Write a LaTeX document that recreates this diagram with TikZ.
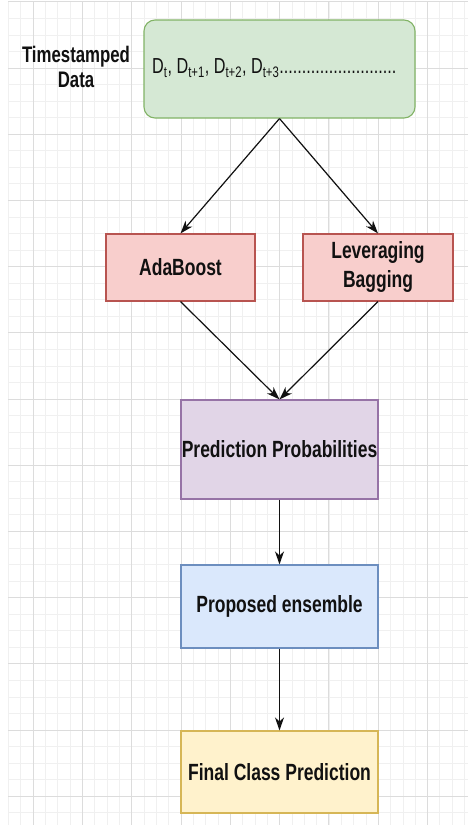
\documentclass[tikz,border=0pt]{standalone}
\usepackage{fontspec}
\setmainfont{Liberation Sans}
\usepackage{graphicx}
\usetikzlibrary{arrows.meta}

% text in this chart is set taller than wide
\newcommand{\tallset}[1]{\scalebox{1}[1.34]{#1}}

\definecolor{gridminor}{HTML}{F0F0F0}
\definecolor{gridmajor}{HTML}{DCDCDC}
\definecolor{greenfill}{HTML}{D5E8D4}
\definecolor{greenline}{HTML}{82B366}
\definecolor{redfill}{HTML}{F8CECC}
\definecolor{redline}{HTML}{B85450}
\definecolor{purplefill}{HTML}{E1D5E7}
\definecolor{purpleline}{HTML}{9673A6}
\definecolor{bluefill}{HTML}{DAE8FC}
\definecolor{blueline}{HTML}{6C8EBF}
\definecolor{yellowfill}{HTML}{FFF2CC}
\definecolor{yellowline}{HTML}{D6B656}
\definecolor{ink}{HTML}{111111}

\tikzset{
  box/.style={draw, line width=1.1pt, inner sep=0pt, align=center, text=ink,
    font=\fontsize{17.5}{21.6}\selectfont\bfseries},
  flow/.style={draw=ink, line width=1.2pt, -{Stealth[length=13pt,width=9pt,inset=4pt]}},
}

\begin{document}
\begin{tikzpicture}[x=1pt, y=-1pt]
  \useasboundingbox (0,0) rectangle (468,825);
  \fill[white] (0,0) rectangle (468,825);

  % background grid
  \foreach \i in {0,...,37} {
    \draw[gridminor, line width=0.8pt] ({8.34+12.33*\i},2) -- ({8.34+12.33*\i},825);
  }
  \foreach \j in {0,...,49} {
    \draw[gridminor, line width=0.8pt] (8,{1.8+16.55*\j}) -- (468,{1.8+16.55*\j});
  }
  \foreach \i in {0,...,9} {
    \draw[gridmajor, line width=0.9pt] ({33+49.32*\i},2) -- ({33+49.32*\i},825);
  }
  \foreach \j in {0,...,12} {
    \draw[gridmajor, line width=0.9pt] (8,{1.8+66.2*\j}) -- (468,{1.8+66.2*\j});
  }

  % nodes
  \node[box, draw=greenline, fill=greenfill, rounded corners=11pt,
        minimum width=271pt, minimum height=98pt] (data) at (279.5,69) {};
  \node[anchor=west, inner sep=0pt, text=ink,
        font=\fontsize{16.2}{18}\selectfont] (seq) at (152,68)
        {\tallset{D\textsubscript{t}, D\textsubscript{t+1}, D\textsubscript{t+2}, D\textsubscript{t+3}..........................}};
  \node[inner sep=0pt, align=center, text=ink,
        font=\fontsize{16.8}{19.4}\selectfont\bfseries] (label) at (76,70)
        {\tallset{\begin{tabular}{@{}c@{}}Timestamped\\[-1pt]Data\end{tabular}}};

  \node[box, draw=redline, fill=redfill, minimum width=149pt, minimum height=67pt]
        (ada) at (180.5,267.5) {\tallset{AdaBoost}};
  \node[box, draw=redline, fill=redfill, minimum width=150pt, minimum height=67pt]
        (lev) at (378,267.5) {\tallset{\begin{tabular}{@{}c@{}}Leveraging\\Bagging\end{tabular}}};
  \node[box, draw=purpleline, fill=purplefill, minimum width=197pt, minimum height=99pt]
        (prob) at (279.5,449.5) {\tallset{Prediction Probabilities}};
  \node[box, draw=blueline, fill=bluefill, minimum width=197pt, minimum height=83pt]
        (ens) at (279.5,606.5) {\tallset{Proposed ensemble}};
  \node[box, draw=yellowline, fill=yellowfill, minimum width=197pt, minimum height=82pt]
        (fin) at (279.5,772) {\tallset{Final Class Prediction}};

  % connectors
  \draw[flow] (data.south) -- (ada.north);
  \draw[flow] (data.south) -- (lev.north);
  \draw[flow] (ada.south) -- (prob.north);
  \draw[flow] (lev.south) -- (prob.north);
  \draw[flow] (prob.south) -- (ens.north);
  \draw[flow] (ens.south) -- (fin.north);
\end{tikzpicture}
\end{document}
